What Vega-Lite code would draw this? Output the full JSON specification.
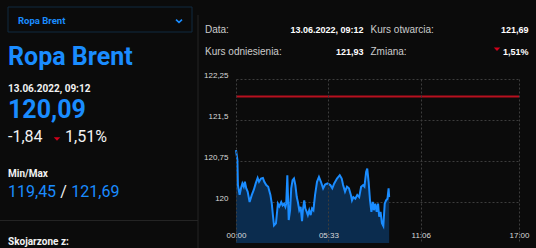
{
  "$schema": "https://vega.github.io/schema/vega-lite/v6.json",
  "width": 283,
  "height": 164,
  "autosize": {"type": "none"},
  "padding": {"left": 236, "top": 79, "right": 17, "bottom": 5},
  "background": "#0b0b0b",
  "config": {"view": {"stroke": null}, "font": "Liberation Sans"},
  "datasets": {
    "prices": [
      {"t": "2022-06-13T00:00", "v": 120.95},
      {"t": "2022-06-13T00:05", "v": 120.77},
      {"t": "2022-06-13T00:07", "v": 120.31},
      {"t": "2022-06-13T00:13", "v": 120.13},
      {"t": "2022-06-13T00:18", "v": 120.25},
      {"t": "2022-06-13T00:23", "v": 120.34},
      {"t": "2022-06-13T00:28", "v": 120.28},
      {"t": "2022-06-13T00:32", "v": 120.37},
      {"t": "2022-06-13T00:37", "v": 120.25},
      {"t": "2022-06-13T00:42", "v": 120.19},
      {"t": "2022-06-13T00:49", "v": 120.00},
      {"t": "2022-06-13T00:57", "v": 120.13},
      {"t": "2022-06-13T01:04", "v": 120.22},
      {"t": "2022-06-13T01:11", "v": 120.34},
      {"t": "2022-06-13T01:18", "v": 120.44},
      {"t": "2022-06-13T01:23", "v": 120.37},
      {"t": "2022-06-13T01:30", "v": 120.43},
      {"t": "2022-06-13T01:37", "v": 120.44},
      {"t": "2022-06-13T01:42", "v": 120.37},
      {"t": "2022-06-13T01:49", "v": 120.31},
      {"t": "2022-06-13T01:56", "v": 120.28},
      {"t": "2022-06-13T02:04", "v": 120.13},
      {"t": "2022-06-13T02:09", "v": 119.97},
      {"t": "2022-06-13T02:13", "v": 119.76},
      {"t": "2022-06-13T02:17", "v": 119.57},
      {"t": "2022-06-13T02:24", "v": 119.61},
      {"t": "2022-06-13T02:31", "v": 119.97},
      {"t": "2022-06-13T02:36", "v": 119.92},
      {"t": "2022-06-13T02:43", "v": 120.00},
      {"t": "2022-06-13T02:48", "v": 119.94},
      {"t": "2022-06-13T02:53", "v": 119.97},
      {"t": "2022-06-13T02:58", "v": 119.91},
      {"t": "2022-06-13T03:01", "v": 119.97},
      {"t": "2022-06-13T03:05", "v": 120.49},
      {"t": "2022-06-13T03:10", "v": 119.67},
      {"t": "2022-06-13T03:15", "v": 119.85},
      {"t": "2022-06-13T03:19", "v": 120.25},
      {"t": "2022-06-13T03:24", "v": 120.40},
      {"t": "2022-06-13T03:29", "v": 120.43},
      {"t": "2022-06-13T03:34", "v": 120.31},
      {"t": "2022-06-13T03:39", "v": 120.09},
      {"t": "2022-06-13T03:43", "v": 120.00},
      {"t": "2022-06-13T03:48", "v": 119.85},
      {"t": "2022-06-13T03:53", "v": 119.91},
      {"t": "2022-06-13T03:58", "v": 119.65},
      {"t": "2022-06-13T04:01", "v": 119.85},
      {"t": "2022-06-13T04:06", "v": 120.03},
      {"t": "2022-06-13T04:10", "v": 119.88},
      {"t": "2022-06-13T04:15", "v": 119.82},
      {"t": "2022-06-13T04:19", "v": 119.76},
      {"t": "2022-06-13T04:24", "v": 119.85},
      {"t": "2022-06-13T04:29", "v": 119.76},
      {"t": "2022-06-13T04:34", "v": 119.88},
      {"t": "2022-06-13T04:39", "v": 119.85},
      {"t": "2022-06-13T04:45", "v": 120.13},
      {"t": "2022-06-13T04:52", "v": 120.37},
      {"t": "2022-06-13T04:59", "v": 120.46},
      {"t": "2022-06-13T05:06", "v": 120.37},
      {"t": "2022-06-13T05:14", "v": 120.25},
      {"t": "2022-06-13T05:21", "v": 120.32},
      {"t": "2022-06-13T05:30", "v": 120.34},
      {"t": "2022-06-13T05:40", "v": 120.31},
      {"t": "2022-06-13T05:47", "v": 120.25},
      {"t": "2022-06-13T05:54", "v": 120.34},
      {"t": "2022-06-13T06:04", "v": 120.43},
      {"t": "2022-06-13T06:14", "v": 120.49},
      {"t": "2022-06-13T06:21", "v": 120.43},
      {"t": "2022-06-13T06:26", "v": 120.31},
      {"t": "2022-06-13T06:33", "v": 120.19},
      {"t": "2022-06-13T06:40", "v": 120.28},
      {"t": "2022-06-13T06:47", "v": 120.25},
      {"t": "2022-06-13T06:54", "v": 120.13},
      {"t": "2022-06-13T06:58", "v": 120.03},
      {"t": "2022-06-13T07:03", "v": 120.09},
      {"t": "2022-06-13T07:10", "v": 120.06},
      {"t": "2022-06-13T07:17", "v": 120.13},
      {"t": "2022-06-13T07:24", "v": 120.09},
      {"t": "2022-06-13T07:31", "v": 120.28},
      {"t": "2022-06-13T07:38", "v": 120.31},
      {"t": "2022-06-13T07:43", "v": 120.28},
      {"t": "2022-06-13T07:49", "v": 120.55},
      {"t": "2022-06-13T07:53", "v": 120.61},
      {"t": "2022-06-13T07:58", "v": 120.37},
      {"t": "2022-06-13T08:03", "v": 120.03},
      {"t": "2022-06-13T08:08", "v": 119.82},
      {"t": "2022-06-13T08:13", "v": 120.00},
      {"t": "2022-06-13T08:17", "v": 119.85},
      {"t": "2022-06-13T08:22", "v": 119.97},
      {"t": "2022-06-13T08:27", "v": 119.82},
      {"t": "2022-06-13T08:32", "v": 119.97},
      {"t": "2022-06-13T08:36", "v": 119.73},
      {"t": "2022-06-13T08:41", "v": 119.82},
      {"t": "2022-06-13T08:46", "v": 119.61},
      {"t": "2022-06-13T08:51", "v": 119.56},
      {"t": "2022-06-13T08:56", "v": 119.97},
      {"t": "2022-06-13T09:01", "v": 120.03},
      {"t": "2022-06-13T09:06", "v": 120.06},
      {"t": "2022-06-13T09:10", "v": 120.25},
      {"t": "2022-06-13T09:12", "v": 120.09}
    ],
    "reference": [{"name": "Kurs odniesienia", "ref": 121.93}],
    "labels": [
      {"role": "selector", "text": "Ropa Brent", "col": 2, "line": 3},
      {"role": "title", "text": "Ropa Brent", "col": 1, "line": 8},
      {"role": "head", "text": "13.06.2022, 09:12", "col": 1, "line": 9},
      {"role": "price", "text": "120,09", "col": 1, "line": 10},
      {"role": "change", "text": "-1,84", "col": 1, "line": 12},
      {"role": "change", "text": "1,51%", "col": 5, "line": 12},
      {"role": "head", "text": "Min/Max", "col": 1, "line": 13},
      {"role": "range", "text": "119,45", "col": 1, "line": 14},
      {"role": "sep", "text": "/", "col": 4, "line": 14},
      {"role": "range", "text": "121,69", "col": 6, "line": 14},
      {"role": "head", "text": "Skojarzone z:", "col": 1, "line": 16},
      {"role": "tlabel", "text": "Data:", "col": 10, "line": 5},
      {"role": "tvalue", "text": "13.06.2022, 09:12", "col": 11, "line": 5},
      {"role": "tlabel", "text": "Kurs otwarcia:", "col": 12, "line": 5},
      {"role": "tvalue", "text": "121,69", "col": 14, "line": 5},
      {"role": "tlabel", "text": "Kurs odniesienia:", "col": 10, "line": 7},
      {"role": "tvalue", "text": "121,93", "col": 11, "line": 7},
      {"role": "tlabel", "text": "Zmiana:", "col": 12, "line": 7},
      {"role": "tvalue", "text": "1,51%", "col": 14, "line": 7},
      {"role": "down", "col": 3, "line": 11},
      {"role": "down", "col": 13, "line": 6},
      {"role": "chevron", "col": 7, "line": 2},
      {"role": "box", "col": 1, "col2": 8, "line": 0, "line2": 4},
      {"role": "hline", "col": 0, "col2": 9, "line": 15},
      {"role": "vline", "col": 9, "line": 1, "line2": 17}
    ]
  },
  "layer": [
    {
      "data": {"name": "prices"},
      "layer": [
        {
          "mark": {"type": "area", "color": "#0b2c4e", "opacity": 1},
          "encoding": {
            "x": {
              "field": "t", "type": "temporal",
              "scale": {"domain": [
                {"year": 2022, "month": 6, "date": 13, "hours": 0, "minutes": 0},
                {"year": 2022, "month": 6, "date": 13, "hours": 17, "minutes": 0}
              ]},
              "axis": {
                "title": null,
                "values": [
                  {"year": 2022, "month": 6, "date": 13, "hours": 0, "minutes": 0},
                  {"year": 2022, "month": 6, "date": 13, "hours": 5, "minutes": 33},
                  {"year": 2022, "month": 6, "date": 13, "hours": 11, "minutes": 6},
                  {"year": 2022, "month": 6, "date": 13, "hours": 17, "minutes": 0}
                ],
                "format": "%H:%M",
                "labelFlush": false,
                "labelOverlap": false,
                "labelFont": "Liberation Sans",
                "labelFontSize": 8,
                "labelColor": "#d9d9d9",
                "labelBaseline": "alphabetic",
                "labelPadding": -6,
                "ticks": false,
                "domain": false,
                "grid": true,
                "gridColor": "#3d3d3d",
                "gridDash": [2, 2],
                "gridWidth": 1,
                "zindex": 1
              }
            },
            "y": {
              "field": "v", "type": "quantitative",
              "scale": {"domain": [119.25, 122.25], "zero": false, "nice": false},
              "axis": {
                "title": null,
                "values": [120, 120.75, 121.5, 122.25],
                "labelExpr": "replace(datum.value + '', '.', ',')",
                "labelFont": "Liberation Sans",
                "labelFontSize": 8,
                "labelColor": "#d9d9d9",
                "labelBaseline": "alphabetic",
                "labelOffset": -1.5,
                "labelPadding": 8,
                "ticks": false,
                "domain": false,
                "grid": true,
                "gridColor": "#3d3d3d",
                "gridDash": [2, 2],
                "gridWidth": 1
              }
            },
            "y2": {"datum": 119.25}
          }
        },
        {
          "mark": {"type": "line", "color": "#1a8cff", "strokeWidth": 2},
          "encoding": {
            "x": {"field": "t", "type": "temporal"},
            "y": {"field": "v", "type": "quantitative"}
          }
        },
        {
          "data": {"name": "reference"},
          "mark": {"type": "rule", "color": "#b8101f", "strokeWidth": 2},
          "encoding": {"y": {"field": "ref", "type": "quantitative"}}
        }
      ]
    },
    {
      "data": {"name": "labels"},
      "encoding": {
        "x": {
          "field": "col", "type": "quantitative", "axis": null,
          "scale": {
            "domain": [0, 1, 2, 3, 4, 5, 6, 7, 8, 9, 10, 11, 12, 13, 14],
            "range": [-236, -228, -218, -179, -172.5, -171, -164.7, -57, -44, -38, -31, 127.5, 134.5, 261, 292.5],
            "zero": false, "nice": false
          }
        },
        "y": {
          "field": "line", "type": "quantitative", "axis": null,
          "scale": {
            "domain": [0, 1, 2, 3, 4, 5, 6, 7, 8, 9, 10, 11, 12, 13, 14, 15, 16, 17],
            "range": [-72, -64, -58, -55.5, -47, -45.7, -29.7, -24, -14, 12.7, 39.3, 60, 63, 98.3, 118.3, 141.5, 166, 169],
            "zero": false, "nice": false
          }
        }
      },
      "layer": [
        {
          "transform": [{"filter": "datum.role === 'box'"}],
          "mark": {"type": "rect", "fill": "transparent", "stroke": "#112a40", "strokeWidth": 1},
          "encoding": {"x2": {"field": "col2"}, "y2": {"field": "line2"}}
        },
        {
          "transform": [{"filter": "datum.role === 'hline'"}],
          "mark": {"type": "rule", "color": "#242424", "strokeWidth": 1},
          "encoding": {"x2": {"field": "col2"}}
        },
        {
          "transform": [{"filter": "datum.role === 'vline'"}],
          "mark": {"type": "rule", "color": "#242424", "strokeWidth": 1},
          "encoding": {"y2": {"field": "line2"}}
        },
        {
          "transform": [{"filter": "datum.role === 'chevron'"}],
          "mark": {"type": "point", "shape": "M-1,-0.45L0,0.45L1,-0.45", "filled": false, "stroke": "#1a8cff", "strokeWidth": 1.6, "size": 36, "opacity": 1}
        },
        {
          "transform": [{"filter": "datum.role === 'down'"}],
          "mark": {"type": "point", "shape": "M-1,-0.55L1,-0.55L0,0.55Z", "filled": true, "color": "#d0021b", "size": 42, "opacity": 1}
        },
        {
          "transform": [{"filter": "datum.role === 'selector'"}],
          "mark": {"type": "text", "font": "Roboto", "fontWeight": "bold", "fontSize": 9.5, "color": "#1a8cff", "align": "left", "baseline": "alphabetic"},
          "encoding": {"text": {"field": "text"}}
        },
        {
          "transform": [{"filter": "datum.role === 'title' || datum.role === 'price'"}],
          "mark": {"type": "text", "font": "Roboto", "fontWeight": "bold", "fontSize": 25, "color": "#1a8cff", "align": "left", "baseline": "alphabetic"},
          "encoding": {"text": {"field": "text"}}
        },
        {
          "transform": [{"filter": "datum.role === 'head'"}],
          "mark": {"type": "text", "font": "Roboto", "fontWeight": "bold", "fontSize": 10, "color": "#f2f2f2", "align": "left", "baseline": "alphabetic"},
          "encoding": {"text": {"field": "text"}}
        },
        {
          "transform": [{"filter": "datum.role === 'change'"}],
          "mark": {"type": "text", "font": "Roboto", "fontSize": 16, "color": "#f2f2f2", "align": "left", "baseline": "alphabetic"},
          "encoding": {"text": {"field": "text"}}
        },
        {
          "transform": [{"filter": "datum.role === 'range'"}],
          "mark": {"type": "text", "font": "Roboto", "fontSize": 16, "color": "#1a8cff", "align": "left", "baseline": "alphabetic"},
          "encoding": {"text": {"field": "text"}}
        },
        {
          "transform": [{"filter": "datum.role === 'sep'"}],
          "mark": {"type": "text", "font": "Roboto", "fontSize": 16, "color": "#f2f2f2", "align": "center", "baseline": "alphabetic"},
          "encoding": {"text": {"field": "text"}}
        },
        {
          "transform": [{"filter": "datum.role === 'tlabel'"}],
          "mark": {"type": "text", "font": "Liberation Sans", "fontSize": 10, "color": "#cccccc", "align": "left", "baseline": "alphabetic"},
          "encoding": {"text": {"field": "text"}}
        },
        {
          "transform": [{"filter": "datum.role === 'tvalue'"}],
          "mark": {"type": "text", "font": "Liberation Sans", "fontWeight": "bold", "fontSize": 9, "color": "#ffffff", "align": "right", "baseline": "alphabetic"},
          "encoding": {"text": {"field": "text"}}
        }
      ]
    }
  ],
  "resolve": {"scale": {"x": "independent", "y": "independent"}}
}
